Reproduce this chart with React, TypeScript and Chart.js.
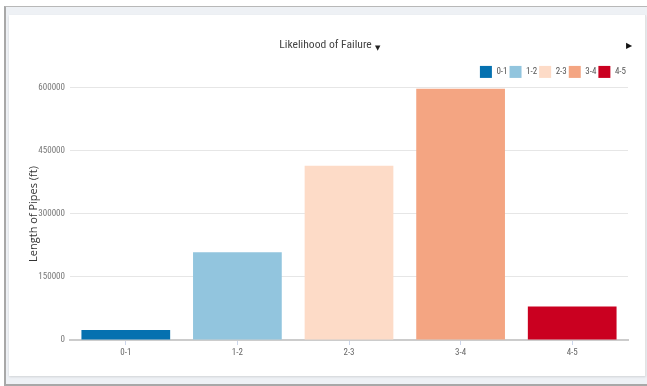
import React, { useEffect, useRef } from 'react';
import { Chart, registerables } from 'chart.js';

Chart.register(...registerables);

const categories = ['0-1', '1-2', '2-3', '3-4', '4-5'];
const lengths = [24000, 209000, 415000, 598000, 80000];
const colors = ['#0571b0', '#92c5de', '#fddbc7', '#f4a582', '#ca0020'];
const yTicks = [0, 150000, 300000, 450000, 600000];
const chartTitle = 'Likelihood of Failure';
const yTitle = 'Length of Pipes (ft)';

const NARROW = "'Liberation Sans Narrow', 'Arial Narrow', 'Roboto Condensed', 'DejaVu Sans Condensed', sans-serif";
const REGULAR = "'Open Sans', 'Liberation Sans', Arial, sans-serif";

export default function App() {
  const ref = useRef<HTMLCanvasElement | null>(null);

  useEffect(() => {
    if (!ref.current) return;
    const chart = new Chart(ref.current, {
      type: 'bar',
      data: {
        labels: categories,
        datasets: [
          {
            data: lengths,
            backgroundColor: colors,
            borderWidth: 0,
            barPercentage: 0.795,
            categoryPercentage: 1,
          },
        ],
      },
      options: {
        animation: false,
        responsive: true,
        maintainAspectRatio: false,
        layout: { padding: { left: 14, right: 17, top: 0, bottom: 18 } },
        plugins: {
          title: {
            display: true,
            text: chartTitle,
            color: '#444',
            font: { family: NARROW, size: 11.6, weight: 'normal' },
            padding: { top: 23, bottom: 12 },
          },
          legend: {
            position: 'top',
            align: 'end',
            labels: {
              boxWidth: 12,
              boxHeight: 12,
              padding: 2,
              color: '#555',
              font: { family: NARROW, size: 9 },
              generateLabels: () =>
                categories.map((c, i) => ({
                  text: c,
                  fillStyle: colors[i],
                  strokeStyle: colors[i],
                  lineWidth: 0,
                  hidden: false,
                  index: i,
                  datasetIndex: 0,
                  fontColor: '#555',
                })),
            },
          },
          tooltip: { enabled: false },
        },
        scales: {
          x: {
            grid: {
              display: true,
              drawOnChartArea: false,
              drawTicks: true,
              tickLength: 5,
              offset: false,
              color: '#ccd6eb',
            },
            border: { color: '#cccccc', width: 2 },
            ticks: { color: '#666', font: { family: NARROW, size: 9 }, padding: 2 },
            afterFit: (s: any) => {
              s.height = 18;
            },
          },
          y: {
            min: 0,
            max: 600000,
            afterBuildTicks: (s: any) => {
              s.ticks = yTicks.map((v) => ({ value: v }));
            },
            grid: { color: '#e6e6e6', drawTicks: false },
            border: { display: false },
            ticks: {
              color: '#777',
              font: { family: NARROW, size: 9 },
              padding: 5,
              callback: (v: any) => String(v),
            },
            title: {
              display: true,
              text: yTitle,
              color: '#333',
              font: { family: REGULAR, size: 11 },
              padding: { top: 4, bottom: 0 },
            },
            afterFit: (s: any) => {
              s.width = 47;
            },
          },
        },
      },
    });
    return () => chart.destroy();
  }, []);

  return (
    <div
      style={{
        position: 'fixed',
        left: 0,
        top: 0,
        width: 647,
        height: 386,
        background: '#ffffff',
        overflow: 'hidden',
      }}
    >
      <div
        style={{
          position: 'absolute',
          left: 4,
          top: 6,
          width: 660,
          height: 380,
          boxSizing: 'border-box',
          borderLeft: '2px solid #a8a8a8',
          borderTop: '1px solid #b8b8b8',
          borderBottom: '2px solid #a8a8a8',
          background: '#eef1f5',
        }}
      />
      <div
        style={{
          position: 'absolute',
          left: 9,
          top: 15,
          width: 636,
          height: 361,
          background: '#ffffff',
          boxShadow: '0 1px 2px rgba(0,0,0,0.12)',
          borderRight: '1px solid #e2e2e2',
        }}
      >
        <canvas ref={ref} style={{ width: '100%', height: '100%' }} />
      </div>
      <span
        style={{
          position: 'absolute',
          left: 375,
          top: 45,
          fontSize: 7,
          lineHeight: '7px',
          color: '#222',
          fontFamily: 'DejaVu Sans, sans-serif',
        }}
      >
        ▼
      </span>
      <span
        style={{
          position: 'absolute',
          left: 626,
          top: 42,
          fontSize: 8,
          lineHeight: '8px',
          color: '#111',
          fontFamily: 'DejaVu Sans, sans-serif',
        }}
      >
        ▶
      </span>
    </div>
  );
}
